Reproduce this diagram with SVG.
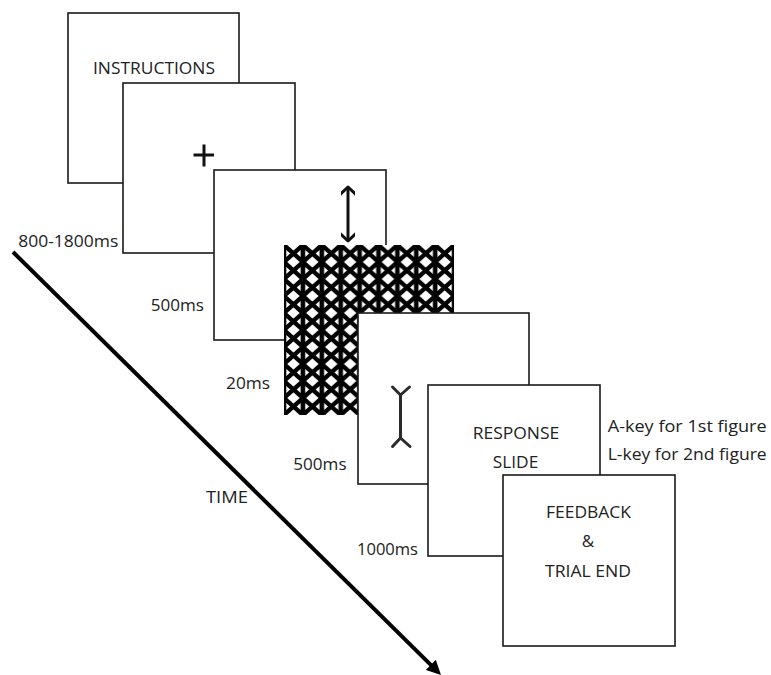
<svg xmlns="http://www.w3.org/2000/svg" width="771" height="675" viewBox="0 0 771 675">
<style>
.box{fill:#fff;stroke:#1a1a1a;stroke-width:1.6}
.t{font-family:"Open Sans","Liberation Sans",sans-serif;font-size:17px;fill:#222}
.c{text-anchor:middle}
.sym{fill:none;stroke:#111;stroke-width:3;stroke-linejoin:round}
.ml{fill:none;stroke:#2b2b2b;stroke-width:3;stroke-linecap:round;stroke-linejoin:round}
</style>
<defs>
<marker id="ah" viewBox="0 0 10 10" refX="2" refY="5" markerWidth="3.6" markerHeight="3.6" orient="auto" markerUnits="strokeWidth">
<path d="M0,0 L10,5 L0,10 Z" fill="#000"/>
</marker>
<marker id="vh" viewBox="-12 -7 14 14" refX="0" refY="0" markerWidth="14" markerHeight="14" orient="auto-start-reverse" markerUnits="userSpaceOnUse">
<path d="M-9,-9.5 L0,0 L-9,9.5" fill="none" stroke="#111" stroke-width="3" stroke-linecap="round" stroke-linejoin="round"/>
</marker>
<pattern id="mask" patternUnits="userSpaceOnUse" x="284" y="245" width="18.9" height="17">
<rect x="0" y="0" width="18.9" height="17" fill="#fff"/>
<path d="M0,0 L18.9,17 M18.9,0 L0,17" stroke="#000" stroke-width="4.3"/>
<path d="M0,-1 V18 M18.9,-1 V18" stroke="#000" stroke-width="4.6"/>
</pattern>
</defs>

<g id="connectors">
<line x1="13" y1="252" x2="432.8" y2="666.9" stroke="#000" stroke-width="4" marker-end="url(#ah)"/>
</g>

<g id="instructions">
<rect class="box" x="68" y="13" width="171" height="170"/>
<text class="t c" x="154" y="74" textLength="122" lengthAdjust="spacingAndGlyphs">INSTRUCTIONS</text>
</g>

<g id="fixation">
<rect class="box" x="123" y="83" width="172" height="170"/>
<path class="sym" d="M193.5,155 H214 M204,144.5 V166.5"/>
</g>

<g id="cue">
<rect class="box" x="214" y="170" width="172" height="170"/>
<line x1="348" y1="187" x2="348" y2="241" stroke="#111" stroke-width="3" marker-start="url(#vh)" marker-end="url(#vh)"/>
</g>

<g id="mask-stimulus">
<rect x="284" y="245" width="170" height="170" fill="url(#mask)"/>
</g>

<g id="figure">
<rect class="box" x="358" y="313" width="171" height="171"/>
<path class="ml" d="M392.5,387 L400.5,395 L409.5,387 M400.5,395 V438 M392.5,446.5 L400.5,438 L410,446.5"/>
</g>

<g id="response">
<rect class="box" x="428" y="385" width="172" height="171"/>
<text class="t c" x="516" y="439" textLength="86.5" lengthAdjust="spacingAndGlyphs">RESPONSE</text>
<text class="t c" x="515.5" y="468" textLength="45.6" lengthAdjust="spacingAndGlyphs">SLIDE</text>
</g>

<g id="feedback">
<rect class="box" x="503" y="475" width="172" height="171"/>
<text class="t c" x="588.5" y="518" textLength="85" lengthAdjust="spacingAndGlyphs">FEEDBACK</text>
<text class="t c" x="588" y="547">&amp;</text>
<text class="t c" x="588" y="577" textLength="86" lengthAdjust="spacingAndGlyphs">TRIAL END</text>
</g>

<g id="labels">
<text class="t" x="18.3" y="247" textLength="100" lengthAdjust="spacingAndGlyphs">800-1800ms</text>
<text class="t" x="150.7" y="310.5" textLength="53.3" lengthAdjust="spacingAndGlyphs">500ms</text>
<text class="t" x="226" y="389" textLength="44" lengthAdjust="spacingAndGlyphs">20ms</text>
<text class="t" x="293.3" y="470" textLength="53.3" lengthAdjust="spacingAndGlyphs">500ms</text>
<text class="t" x="357" y="555" textLength="61" lengthAdjust="spacingAndGlyphs">1000ms</text>
<text class="t" x="206" y="503" textLength="42" lengthAdjust="spacingAndGlyphs">TIME</text>
<text class="t" x="607.7" y="432" textLength="159" lengthAdjust="spacingAndGlyphs">A-key for 1st figure</text>
<text class="t" x="607.7" y="460" textLength="159" lengthAdjust="spacingAndGlyphs">L-key for 2nd figure</text>
</g>
</svg>
